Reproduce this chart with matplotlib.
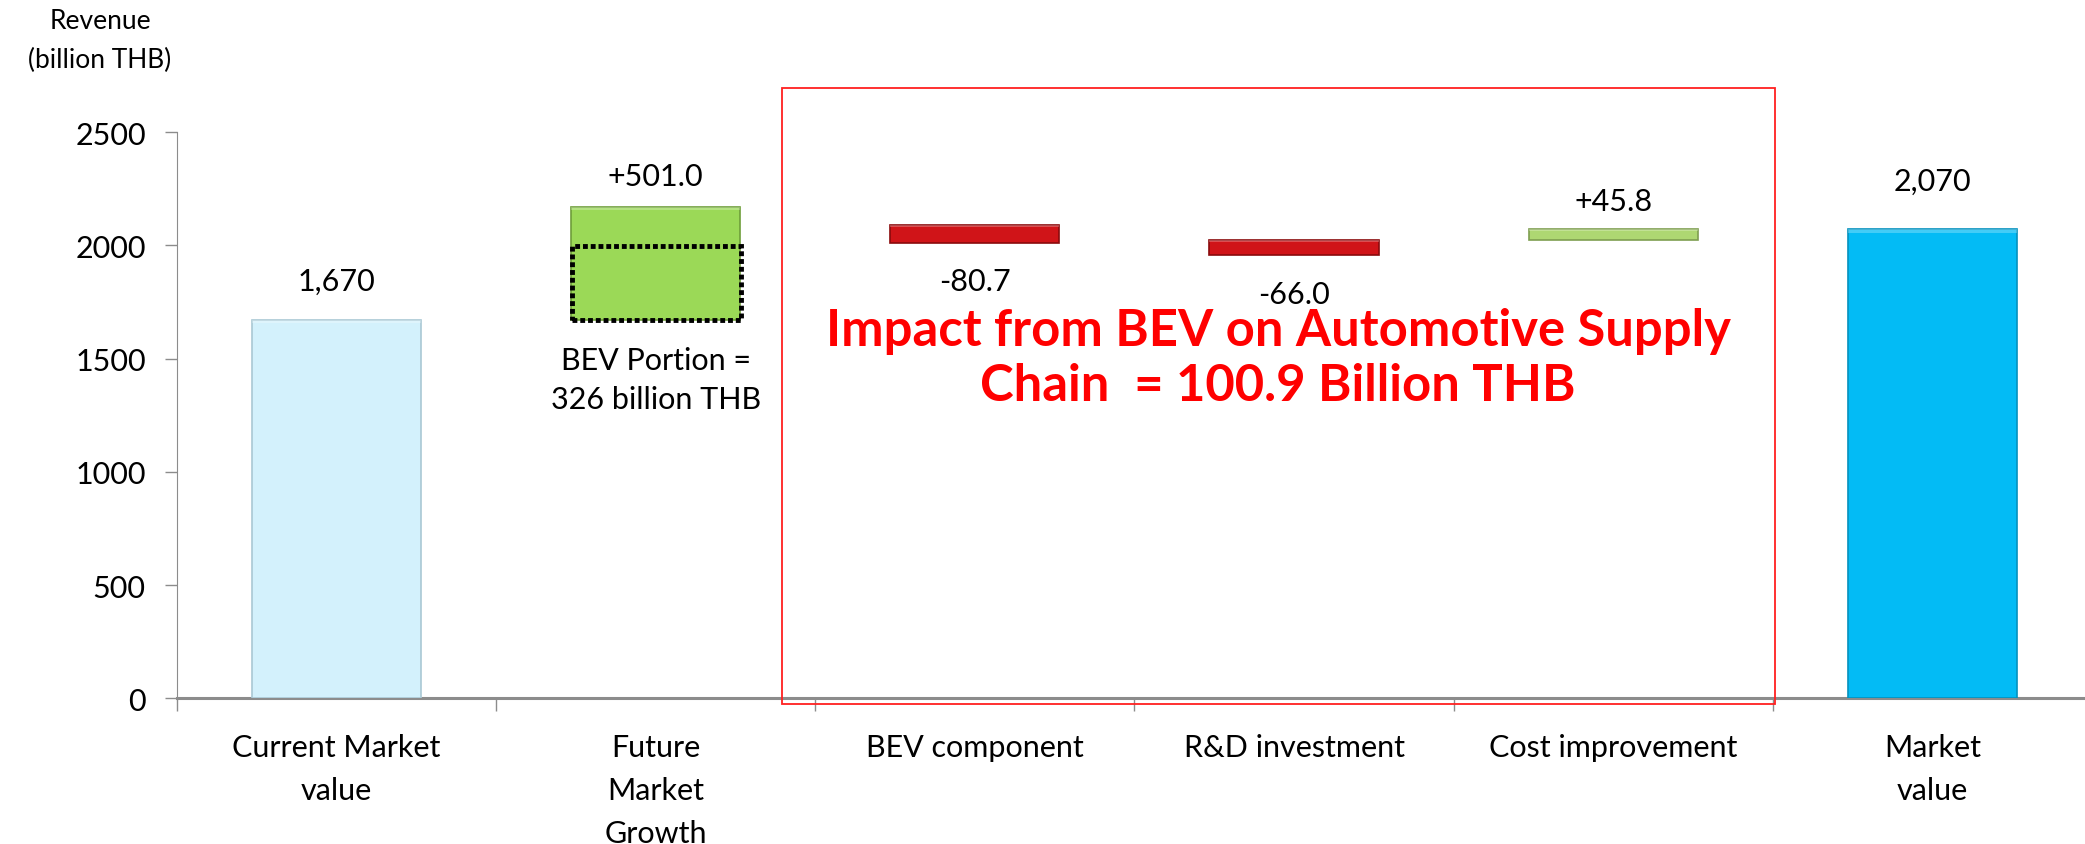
import matplotlib
matplotlib.use("Agg")
import matplotlib.pyplot as plt
from matplotlib.patches import Rectangle
import numpy as np

plt.rcParams['font.family'] = ['Lato', 'DejaVu Sans']

categories = ["Current Market\nvalue", "Future\nMarket\nGrowth", "BEV component",
              "R&D investment", "Cost improvement", "Market\nvalue"]
start_value = 1670.0
changes = [501.0, -80.7, -66.0, 45.8]
final_value = 2070.0
bev_portion = 326.0
value_labels = ["1,670", "+501.0", "-80.7", "-66.0", "+45.8", "2,070"]
yticks = [0, 500, 1000, 1500, 2000, 2500]

colors = ['#D3F1FC', '#9BD957', '#D01418', '#D01418', '#AED772', '#03BBF5']
edges = ['#A9C8D4', '#6E9E3A', '#8A0A0C', '#8A0A0C', '#7E9E50', '#0391BE']

# Waterfall geometry (negative steps drawn below the new running total)
bottoms, heights = [0.0], [start_value]
total = start_value
for c in changes:
    if c >= 0:
        bottoms.append(total); heights.append(c); total += c
    else:
        total += c
        bottoms.append(total + c); heights.append(-c)
bottoms.append(0.0); heights.append(final_value)

FS = 22

fig = plt.figure(figsize=(20.85, 8.45), dpi=100)
ax = fig.add_axes([0.0849, 0.1722, 1.0033 - 0.0849, 0.8426 - 0.1722])
x = np.arange(len(categories))
w = 0.53
ax.bar(x, heights, bottom=bottoms, width=w, color=colors, edgecolor=edges,
       linewidth=1.2, zorder=3)
# subtle highlight strip on top of each bar
for xi, b, h, c in zip(x, bottoms, heights, colors):
    hh = min(h * 0.12, 14)
    ax.add_patch(Rectangle((xi - w / 2, b + h - hh), w, hh, facecolor='white',
                           alpha=0.25, edgecolor='none', zorder=4))

# BEV portion dotted box
ax.add_patch(Rectangle((1 - 0.2625, start_value), 0.53, bev_portion, fill=False,
                       edgecolor='black', linewidth=3.5, linestyle=(0, (1, 0.6)),
                       zorder=5))

ax.set_xlim(-0.5, 5.5)
ax.set_ylim(0, 2500)
ax.set_yticks(yticks)
ax.set_yticklabels([str(t) for t in yticks], fontsize=FS)
ax.set_xticks(x)
ax.set_xticklabels(categories, fontsize=FS, linespacing=1.65, va='top')
ax.set_xticks(np.arange(-0.5, 6.0, 1.0), minor=True)
ax.tick_params(axis='x', which='major', length=0, pad=25)
ax.tick_params(axis='x', which='minor', length=9.5, color='#8C8C8C', width=1)
ax.tick_params(axis='y', length=8.5, color='#8C8C8C', width=1, pad=14)
for s in ['top', 'right']:
    ax.spines[s].set_visible(False)
ax.spines['left'].set_color('#8C8C8C')
ax.spines['bottom'].set_color('#8C8C8C')
ax.spines['bottom'].set_linewidth(2.2)

label_y = [1843, 2306, 1843, 1784, 2195, 2283]
for xi, lab, ly in zip(x, value_labels, label_y):
    ax.text(xi, ly, lab, ha='center', va='center', fontsize=FS, zorder=6)

ax.text(1, 1408, "BEV Portion =\n326 billion THB", ha='center', va='center',
        fontsize=FS, linespacing=1.45, zorder=6)

ax.text(2.95, 1502, "Impact from BEV on Automotive Supply\nChain  = 100.9 Billion THB",
        ha='center', va='center', fontsize=36.5, fontweight='bold', color='#FF0000',
        linespacing=1.2, zorder=6)

fig.text(0.048, 0.951, "Revenue\n(billion THB)", ha='center', va='center',
         fontsize=19, linespacing=1.7)

fig.add_artist(Rectangle((0.375, 0.1657), 0.8513 - 0.375, 0.8947 - 0.1657,
                         transform=fig.transFigure, fill=False,
                         edgecolor='#FF2020', linewidth=1.3, zorder=10))

fig.savefig("out.png", dpi=100)
